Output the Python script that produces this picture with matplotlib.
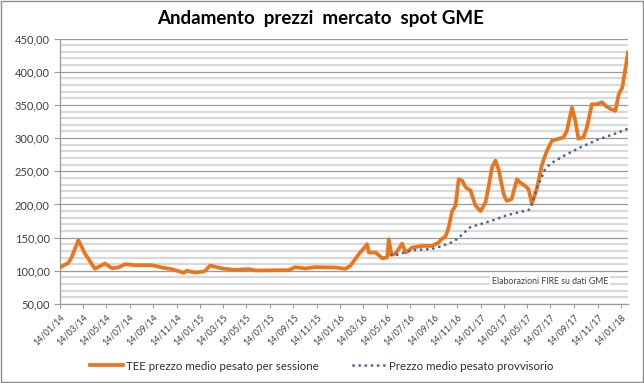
import matplotlib
matplotlib.use("Agg")
import matplotlib.pyplot as plt
import matplotlib.dates as mdates
from matplotlib.ticker import FuncFormatter, MultipleLocator
from matplotlib.patches import Rectangle
import pandas as pd

plt.rcParams['font.family'] = ['Lato', 'DejaVu Sans']

# ── data ────────────────────────────────────────────────────────────────────
tee_dates = [
    "2014-01-14", "2014-02-05", "2014-02-13", "2014-03-03", "2014-03-20",
    "2014-04-15", "2014-05-11", "2014-05-29", "2014-06-15", "2014-07-03",
    "2014-07-29", "2014-09-10", "2014-10-06", "2014-11-01", "2014-12-02",
    "2014-12-10", "2015-01-01", "2015-01-23", "2015-01-27", "2015-02-09",
    "2015-03-12", "2015-04-15", "2015-05-20", "2015-06-07", "2015-09-01",
    "2015-09-18", "2015-10-14", "2015-11-09", "2016-01-01", "2016-01-27",
    "2016-02-09", "2016-03-02", "2016-03-24", "2016-03-28", "2016-04-15",
    "2016-05-02", "2016-05-15", "2016-05-19", "2016-05-26", "2016-06-06",
    "2016-06-23", "2016-07-02", "2016-07-19", "2016-08-14", "2016-09-09",
    "2016-09-26", "2016-10-02", "2016-10-14", "2016-10-22", "2016-10-31",
    "2016-11-09", "2016-11-17", "2016-11-26", "2016-12-05", "2016-12-18",
    "2016-12-31", "2017-01-13", "2017-01-26", "2017-02-04", "2017-02-12",
    "2017-02-21", "2017-03-01", "2017-03-14", "2017-03-22", "2017-04-04",
    "2017-04-18", "2017-04-26", "2017-05-09", "2017-05-18", "2017-05-27",
    "2017-06-09", "2017-06-22", "2017-07-05", "2017-07-18", "2017-08-17",
    "2017-08-26", "2017-09-08", "2017-09-17", "2017-09-25", "2017-10-08",
    "2017-10-17", "2017-10-30", "2017-11-12", "2017-11-25", "2017-12-04",
    "2017-12-17", "2017-12-30", "2018-01-08", "2018-01-17", "2018-01-26",
    "2018-02-01",
]
tee_values = [
    105, 112, 120, 146, 126,
    103, 111, 104, 105, 110,
    108.5, 108.5, 105, 102.5, 97,
    100, 97.5, 99, 100, 108,
    103.5, 101.5, 102.5, 100.5, 101,
    105.5, 103.5, 105.5, 105, 103,
    107.5, 125, 140, 127.5, 127.5,
    119, 120, 147.5, 124, 126,
    141, 127.5, 135, 137.5, 137.5,
    142.5, 147, 152, 165, 190,
    198, 238, 236, 226, 221,
    198, 190, 203, 230, 256,
    266, 253, 216, 205.5, 208,
    238, 233, 228, 223, 201,
    225, 260, 281, 296, 301,
    311, 346, 326, 299, 301,
    316, 351, 351, 354, 349,
    344, 341, 366, 376, 407,
    429,
]

prov_dates = [
    "2016-05-26", "2016-05-31", "2016-07-19", "2016-09-09", "2016-10-05",
    "2016-11-04", "2016-11-22", "2016-12-18", "2017-02-09", "2017-03-24",
    "2017-05-20", "2017-05-27", "2017-06-09", "2017-06-30", "2017-07-13",
    "2017-08-17", "2017-09-30", "2017-11-12", "2017-12-26", "2018-02-01",
]
prov_values = [
    124, 122.5, 131, 133, 137.5,
    144, 152.6, 166, 175, 184,
    192, 201, 225, 253, 261,
    273, 286, 297, 306, 314,
]

tick_dates = [pd.Timestamp(2014 + m // 12, m % 12 + 1, 14) for m in range(0, 49, 2)]

ORANGE = "#E8761F"
BLUE = "#47689A"

fig = plt.figure(figsize=(6.44, 3.83), dpi=100)
ax = fig.add_axes([60 / 644, 1 - 304 / 383, 568 / 644, (304 - 38.5) / 383])

td = pd.to_datetime(tee_dates)
pdt = pd.to_datetime(prov_dates)

ax.plot(td, tee_values, color=ORANGE, lw=2.7, solid_joinstyle="round", zorder=3,
        label="TEE prezzo medio pesato per sessione")
ax.plot(pdt, prov_values, color=BLUE, lw=2.1, linestyle=(0, (0.01, 2.1)),
        dash_capstyle="round", zorder=4, label="Prezzo medio pesato provvisorio")

ax.set_ylim(50, 450)
ax.set_xlim(td[0], td[-1])
ax.yaxis.set_major_locator(MultipleLocator(50))
ax.yaxis.set_minor_locator(MultipleLocator(10))
ax.yaxis.set_major_formatter(FuncFormatter(lambda v, p: f"{v:.2f}".replace(".", ",")))
ax.grid(which="minor", axis="y", color="#d9d9d9", lw=1.6, zorder=0)
ax.grid(which="major", axis="y", color="#9a9a9a", lw=0.9, zorder=1)
ax.set_axisbelow(True)

ax.set_xticks(tick_dates)
ax.xaxis.set_major_formatter(mdates.DateFormatter("%d/%m/%y"))
plt.setp(ax.get_xticklabels(), rotation=45, ha="right", rotation_mode="anchor")
ax.tick_params(axis="x", labelsize=6.5, length=3, color="#9a9a9a", pad=3, labelcolor="#404040")
ax.tick_params(axis="y", which="major", labelsize=8, length=4, color="#9a9a9a", labelcolor="#404040")
ax.tick_params(axis="y", which="minor", length=0)

for s in ["top", "right"]:
    ax.spines[s].set_visible(False)
for s in ["left", "bottom"]:
    ax.spines[s].set_color("#9a9a9a")
    ax.spines[s].set_linewidth(0.9)

ax.text(0.965, 0.085, "Elaborazioni FIRE su dati GME", transform=ax.transAxes,
        ha="right", va="center", fontsize=6.3, color="#404040",
        bbox=dict(facecolor="white", edgecolor="none", pad=1.0), zorder=5)

fig.text(0.497, 0.953, "Andamento  prezzi  mercato  spot GME", ha="center", va="center",
         fontsize=13.5, fontweight="bold", color="black")

fig.legend(loc="center", bbox_to_anchor=(0.5, 1 - 366 / 383), ncol=2, frameon=False,
           fontsize=8.3, handlelength=2.8, columnspacing=3.0, handletextpad=0.3,
           labelcolor="#303030")

fig.add_artist(Rectangle((0.0015, 0.0025), 0.997, 0.995, transform=fig.transFigure,
                         fill=False, edgecolor="#8c8c8c", lw=1.0))

fig.savefig("out.png", dpi=100, facecolor="white")
